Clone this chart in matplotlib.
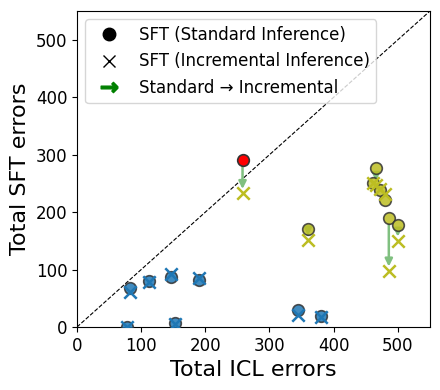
import matplotlib
matplotlib.use("Agg")
import matplotlib.pyplot as plt
from matplotlib.lines import Line2D

# Data: (ICL errors, SFT standard, SFT incremental, group)
icl_x = [83, 78, 112, 146, 153, 190, 344, 380, 258, 360, 466, 462, 473, 480, 486, 500]
sft_std = [68, 0, 80, 87, 7, 82, 30, 19, 290, 171, 277, 250, 238, 222, 189, 177]
sft_inc = [61, 0, 78, 93, 5, 85, 21, 18, 233, 152, 247, 250, 240, 232, 98, 150]
std_groups = ["blue"] * 8 + ["red"] + ["olive"] * 7
inc_groups = ["blue"] * 8 + ["olive"] + ["olive"] * 7

color_map = {"blue": "tab:blue", "red": "red", "olive": "tab:olive"}
alpha_map = {"blue": 0.85, "red": 1.0, "olive": 0.85}

fig = plt.figure(figsize=(4.4, 3.9), dpi=100)
ax = fig.add_axes([0.175, 0.1615, 0.802, 0.81])

ax.plot([0, 550], [0, 550], linestyle="--", color="black", linewidth=0.8)

for x, s, i in zip(icl_x, sft_std, sft_inc):
    if abs(s - i) > 12:
        ax.annotate("", xy=(x, i), xytext=(x, s),
                    arrowprops=dict(arrowstyle="-|>", color="#80c080",
                                    lw=1.8, shrinkA=4, shrinkB=3,
                                    mutation_scale=11))

for x, s, i, gs, gi in zip(icl_x, sft_std, sft_inc, std_groups, inc_groups):
    ax.scatter([x], [s], s=70, color=color_map[gs], alpha=alpha_map[gs],
               edgecolors="#333333", linewidths=1.2, zorder=3)
    ax.scatter([x], [i], s=80, marker="x", color=color_map[gi],
               linewidths=1.8, zorder=4)

ax.set_xlim(0, 550)
ax.set_ylim(0, 550)
ax.set_xticks([0, 100, 200, 300, 400, 500])
ax.set_yticks([0, 100, 200, 300, 400, 500])
ax.tick_params(labelsize=12)
ax.set_xlabel("Total ICL errors", fontsize=16)
ax.set_ylabel("Total SFT errors", fontsize=16)

handles = [
    Line2D([], [], marker="o", color="black", linestyle="None", markersize=9),
    Line2D([], [], marker="x", color="black", linestyle="None", markersize=9),
    Line2D([], [], marker=r"$\mathbf{\rightarrow}$", color="green",
           linestyle="None", markersize=12),
]
labels = ["SFT (Standard Inference)", "SFT (Incremental Inference)",
          "Standard \u2192 Incremental"]
ax.legend(handles, labels, loc="upper left", fontsize=12)

fig.savefig("out.png", dpi=100)
